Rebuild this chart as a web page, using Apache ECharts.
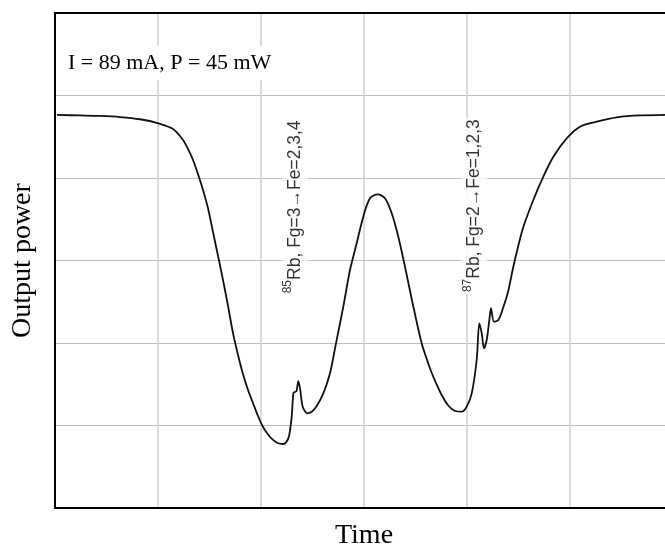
<!DOCTYPE html>
<html>
<head>
<meta charset="utf-8">
<script src="https://cdn.jsdelivr.net/npm/echarts@6/dist/echarts.min.js"></script>
<style>
html,body{margin:0;padding:0;background:#fff;}
#chart{width:665px;height:546px;}
</style>
</head>
<body>
<div id="chart"></div>
<script>
// Time axis (arbitrary units, grid divisions)
const timeValues = [0.019,0.243,0.437,0.631,0.825,1.003,1.146,1.243,1.291,1.340,1.388,1.437,1.485,1.534,1.583,1.631,1.680,1.728,1.777,1.825,1.874,1.922,1.971,2.019,2.068,2.117,2.165,2.214,2.243,2.272,2.298,2.314,2.327,2.345,2.362,2.379,2.405,2.450,2.492,2.541,2.605,2.670,2.728,2.799,2.864,2.929,2.993,3.058,3.133,3.204,3.269,3.333,3.398,3.479,3.560,3.606,3.650,3.699,3.754,3.818,3.883,3.949,3.997,4.046,4.094,4.120,4.143,4.165,4.191,4.217,4.233,4.262,4.304,4.350,4.398,4.447,4.495,4.547,4.644,4.741,4.838,4.968,5.097,5.259,5.453,5.680,5.922,5.98];
// Output power (arbitrary units, grid divisions)
const powerValues = [4.764,4.758,4.752,4.739,4.712,4.663,4.594,4.461,4.352,4.218,4.048,3.855,3.636,3.345,3.055,2.764,2.448,2.121,1.855,1.624,1.430,1.273,1.115,0.985,0.890,0.825,0.785,0.776,0.795,0.870,1.107,1.390,1.405,1.418,1.539,1.451,1.228,1.148,1.167,1.236,1.390,1.633,1.996,2.440,2.885,3.208,3.531,3.754,3.802,3.754,3.572,3.288,2.925,2.440,1.996,1.818,1.661,1.515,1.370,1.242,1.176,1.167,1.228,1.390,1.794,2.239,2.118,1.936,2.036,2.279,2.421,2.258,2.279,2.424,2.618,2.909,3.164,3.406,3.733,4.016,4.258,4.481,4.622,4.682,4.736,4.760,4.764,4.765];

const xAxisName = 'Time';
const yAxisName = 'Output power';
const conditionText = 'I = 89 mA, P = 45 mW';
const annotations = [
  {sup: '85', text: 'Rb, Fg=3\u2192Fe=2,3,4', x: 2.33, y: 3.65},
  {sup: '87', text: 'Rb, Fg=2\u2192Fe=1,2,3', x: 4.07, y: 3.665}
];

const curve = timeValues.map((t, i) => [t, powerValues[i]]);

const chart = echarts.init(document.getElementById('chart'), null, {renderer: 'canvas'});
chart.setOption({
  animation: false,
  backgroundColor: '#fff',
  grid: {
    left: 55, top: 13, right: -8, bottom: 38,
    outerBoundsMode: 'none',
    containLabel: false,
    z: 1,
    show: true, borderColor: '#000', borderWidth: 2, backgroundColor: 'transparent'
  },
  xAxis: {
    type: 'value', min: 0, max: 6, interval: 1,
    name: xAxisName, nameLocation: 'middle', nameGap: 14,
    nameTextStyle: {fontFamily: 'Liberation Serif', fontSize: 28, color: '#000'},
    axisLine: {show: false}, axisTick: {show: false}, axisLabel: {show: false},
    splitLine: {show: true, lineStyle: {color: '#cfcfcf', width: 1.5}}
  },
  yAxis: {
    type: 'value', min: 0, max: 6, interval: 1,
    name: yAxisName, nameLocation: 'middle', nameGap: 18,
    nameTextStyle: {fontFamily: 'Liberation Serif', fontSize: 28, color: '#000'},
    axisLine: {show: false}, axisTick: {show: false}, axisLabel: {show: false},
    splitLine: {show: true, lineStyle: {color: '#bdbdbd', width: 1.2}}
  },
  series: [
    {
      type: 'line',
      data: curve,
      showSymbol: false,
      smooth: 0.3,
      lineStyle: {color: '#111', width: 1.8},
      z: 3
    },
    {
      type: 'scatter',
      symbolSize: 0,
      silent: true,
      z: 4,
      data: annotations.map(a => ({value: [a.x, a.y], sup: a.sup, text: a.text})),
      label: {
        show: true,
        position: 'inside',
        rotate: 90,
        backgroundColor: '#fff',
        padding: [0, 2],
        formatter: p => '{s|' + p.data.sup + '}{n|' + p.data.text + '}',
        rich: {
          s: {fontFamily: 'Liberation Sans', fontSize: 12, lineHeight: 12, verticalAlign: 'top', color: '#000'},
          n: {fontFamily: 'Liberation Sans', fontSize: 17.5, lineHeight: 26, color: '#000'}
        }
      }
    }
  ],
  graphic: [
    {
      type: 'text',
      x: 65, y: 63,
      z: 10,
      style: {
        text: conditionText,
        font: '22px "Liberation Serif"',
        fill: '#000',
        verticalAlign: 'middle',
        align: 'left',
        backgroundColor: '#fff',
        padding: [6, 3]
      }
    }
  ]
});
</script>
</body>
</html>
